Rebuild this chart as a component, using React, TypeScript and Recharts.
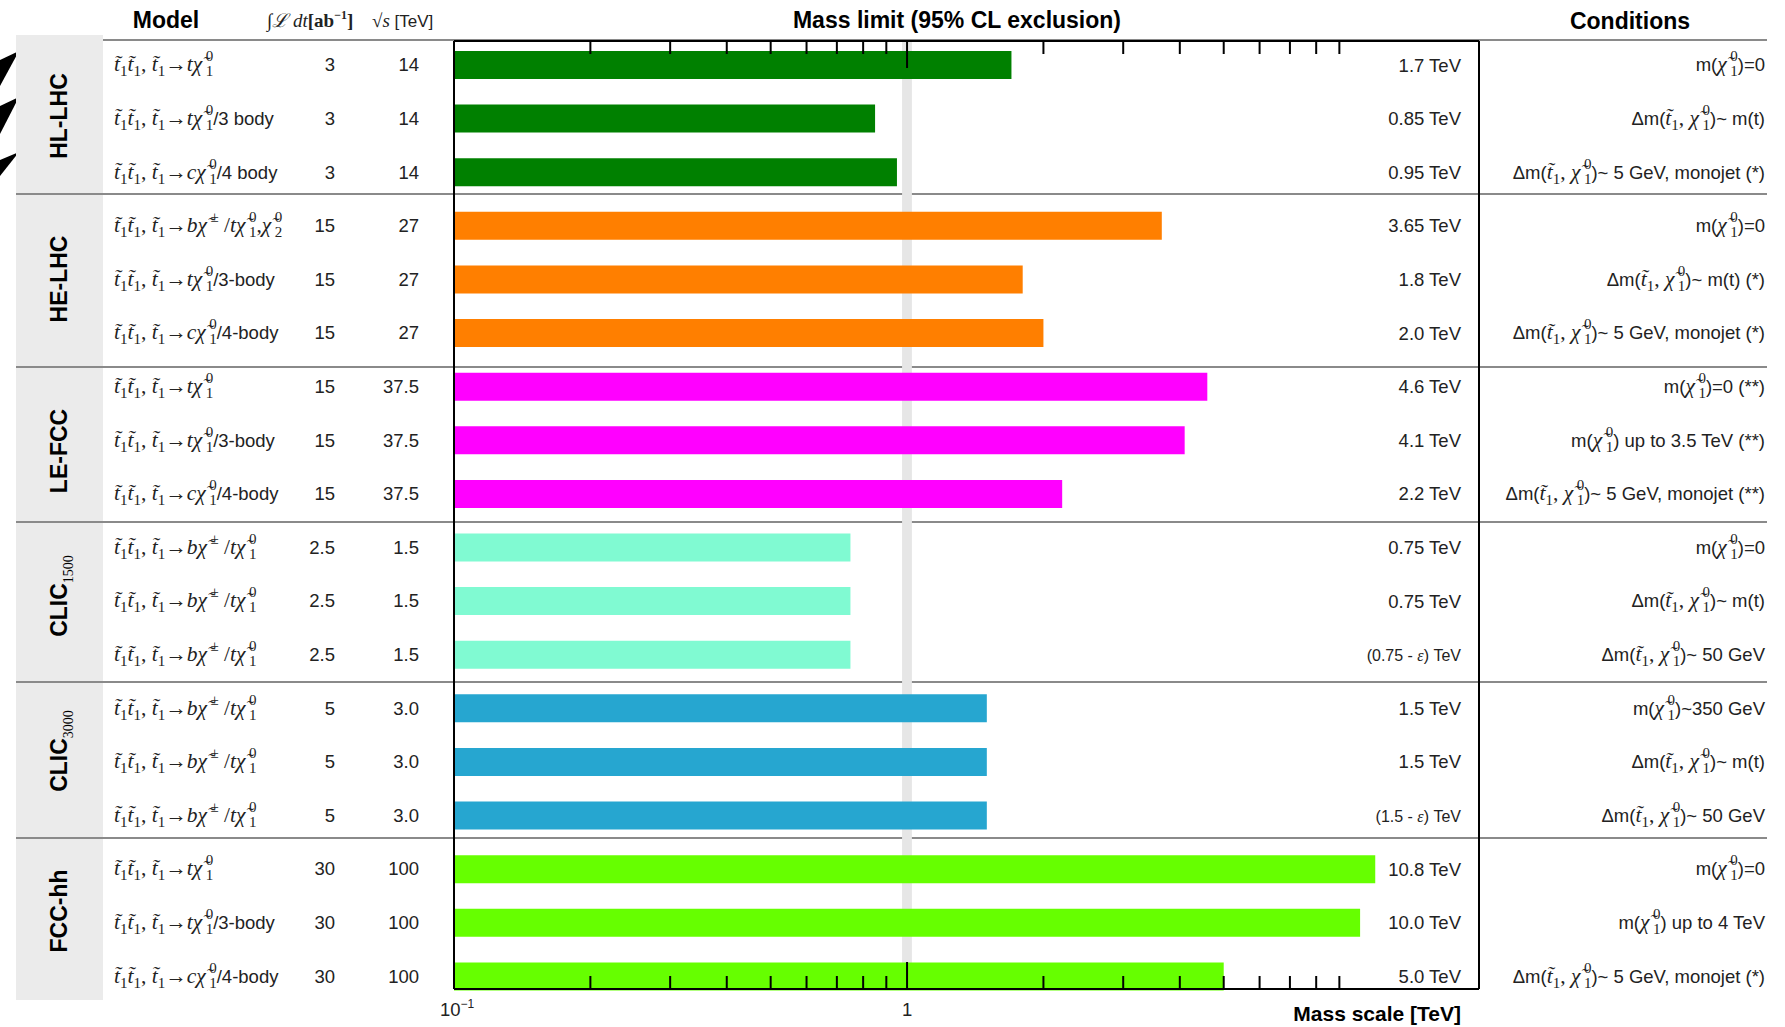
import React from 'react';
import { BarChart, Bar, XAxis, YAxis, Cell, LabelList, ReferenceArea } from 'recharts';

const SANS = "'Liberation Sans', Arial, Helvetica, sans-serif";
const SERIF = "'Liberation Serif', 'Times New Roman', serif";

// ---- data ----
const groupNames = ['HL-LHC', 'HE-LHC', 'LE-FCC', 'CLIC', 'CLIC', 'FCC-hh'];
const groupSubscripts = ['', '', '', '1500', '3000', ''];
const groupColors = ['#008000', '#ff7f00', '#ff00ff', '#80fad2', '#26a6d0', '#66ff00'];

const rowGroup = [0, 0, 0, 1, 1, 1, 2, 2, 2, 3, 3, 3, 4, 4, 4, 5, 5, 5];
const decays = ['t', 't', 'c', 'bt2', 't', 'c', 't', 't', 'c', 'bt', 'bt', 'bt', 'bt', 'bt', 'bt', 't', 't', 'c'];
const decaySuffix = ['', '/3 body', '/4 body', '', '/3-body', '/4-body', '', '/3-body', '/4-body',
  '', '', '', '', '', '', '', '/3-body', '/4-body'];
const lumi = ['3', '3', '3', '15', '15', '15', '15', '15', '15', '2.5', '2.5', '2.5', '5', '5', '5', '30', '30', '30'];
const sqrtS = ['14', '14', '14', '27', '27', '27', '37.5', '37.5', '37.5', '1.5', '1.5', '1.5', '3.0', '3.0', '3.0', '100', '100', '100'];
const massLimits = [1.7, 0.85, 0.95, 3.65, 1.8, 2.0, 4.6, 4.1, 2.2, 0.75, 0.75, 0.75, 1.5, 1.5, 1.5, 10.8, 10.0, 5.0];
const limitLabels = ['1.7 TeV', '0.85 TeV', '0.95 TeV', '3.65 TeV', '1.8 TeV', '2.0 TeV', '4.6 TeV', '4.1 TeV', '2.2 TeV',
  '0.75 TeV', '0.75 TeV', '(0.75 - ε) TeV', '1.5 TeV', '1.5 TeV', '(1.5 - ε) TeV', '10.8 TeV', '10.0 TeV', '5.0 TeV'];
const condKind = ['m', 'dm', 'dm', 'm', 'dm', 'dm', 'm', 'm', 'dm', 'm', 'dm', 'dm', 'm', 'dm', 'dm', 'm', 'm', 'dm'];
const condTail = [')=0', ')~ m(t)', ')~ 5 GeV, monojet (*)',
  ')=0', ')~ m(t) (*)', ')~ 5 GeV, monojet (*)',
  ')=0 (**)', ') up to 3.5 TeV (**)', ')~ 5 GeV, monojet (**)',
  ')=0', ')~ m(t)', ')~ 50 GeV',
  ')~350 GeV', ')~ m(t)', ')~ 50 GeV',
  ')=0', ') up to 4 TeV', ')~ 5 GeV, monojet (*)'];

const axisTicks = [0.1, 0.2, 0.3, 0.4, 0.5, 0.6, 0.7, 0.8, 0.9, 1, 2, 3, 4, 5, 6, 7, 8, 9];
const majorTicks = [0.1, 1];
const majorTickBase = ['10', '1'];
const majorTickExp = ['\u22121', ''];

const rows = massLimits.map((mass, i) => ({ id: `row${i}`, mass, label: limitLabels[i] }));

// ---- layout ----
const W = 1785;
const H = 1027;
const PLOT_LEFT = 454;
const PLOT_RIGHT = 1479;
const PLOT_TOP = 41;
const PLOT_BOTTOM = 989;
const VALUE_X = 1461;
const BODY = 18.5;
const MATH = 21.5;
const SUB = 15;
const separatorY = [194, 367, 522, 682, 838];
const groupLabelY = [116, 279, 451, 596, 751, 911];

type Seg = { t: string; it?: boolean; sz?: number; shift?: number; dx?: number; sans?: boolean; bold?: boolean };

// neutralino / chargino with stacked super- and subscript
const chi = (sup: string, sub?: string): Seg[] => {
  const out: Seg[] = [{ t: 'χ\u0303', it: true }, { t: sup, sz: SUB, shift: -10, dx: 3.5 }];
  if (sub) out.push({ t: sub, sz: SUB, shift: 5, dx: -SUB * (sup === '±' ? 0.564 : 0.5) });
  return out;
};
const stop = (): Seg[] => [{ t: 't\u0303', it: true }, { t: '1', sz: SUB, shift: 5 }];

function modelSegs(i: number): Seg[] {
  const d = decays[i];
  let tail: Seg[] = [];
  if (d === 't' || d === 'c') tail = [{ t: d, it: true }, ...chi('0', '1')];
  else {
    tail = [{ t: 'b', it: true }, ...chi('±'), { t: ' /' }, { t: 't', it: true }, ...chi('0', '1')];
    if (d === 'bt2') tail = [...tail, { t: ',' }, ...chi('0', '2')];
  }
  const out: Seg[] = [...stop(), ...stop(), { t: ', ' }, ...stop(), { t: '→' }, ...tail];
  if (decaySuffix[i]) out.push({ t: decaySuffix[i], sans: true, sz: BODY });
  return out;
}

function condSegs(i: number): Seg[] {
  const head: Seg[] = condKind[i] === 'm'
    ? [{ t: 'm(', sans: true, sz: BODY }, ...chi('0', '1')]
    : [{ t: 'Δm(', sans: true, sz: BODY }, ...stop(), { t: ', ' }, ...chi('0', '1')];
  return [...head, { t: condTail[i], sans: true, sz: BODY }];
}

function renderSegs(segs: Seg[]) {
  let prev = 0;
  return segs.map((s, k) => {
    const shift = s.shift ?? 0;
    const dy = shift - prev;
    prev = shift;
    return (
      <tspan
        key={k}
        dy={dy || undefined}
        dx={s.dx}
        fontSize={s.sz ?? MATH}
        fontStyle={s.it ? 'italic' : 'normal'}
        fontWeight={s.bold ? 'bold' : 'normal'}
        fontFamily={s.sans ? SANS : SERIF}
      >
        {s.t}
      </tspan>
    );
  });
}

const RowTick = (props: any) => {
  const { y, payload } = props;
  const i = rows.findIndex((r) => r.id === payload.value);
  if (i < 0) return <g />;
  const base = Number(y) + 6.5;
  return (
    <g fill="#222">
      <text x={114} y={base}>{renderSegs(modelSegs(i))}</text>
      <text x={335} y={base} textAnchor="end" fontFamily={SANS} fontSize={BODY}>{lumi[i]}</text>
      <text x={419} y={base} textAnchor="end" fontFamily={SANS} fontSize={BODY}>{sqrtS[i]}</text>
      <text x={1765} y={base} textAnchor="end">{renderSegs(condSegs(i))}</text>
    </g>
  );
};

const MassTick = (props: any) => {
  const { x, y, payload, side } = props;
  const v = payload.value;
  const mi = majorTicks.indexOf(v);
  const len = mi >= 0 ? 27 : 13;
  const dir = side === 'top' ? 1 : -1;
  return (
    <g>
      <line x1={x} x2={x} y1={y} y2={y + dir * len} stroke="#000" strokeWidth={2} />
      {side === 'bottom' && mi >= 0 && (
        <text x={mi === 0 ? x - 14 : x - 5} y={y + 27} fontFamily={SANS} fontSize={BODY} fill="#222">
          {majorTickBase[mi]}
          {majorTickExp[mi] && <tspan dy={-8} fontSize={12}>{majorTickExp[mi]}</tspan>}
        </text>
      )}
    </g>
  );
};

const ValueLabel = (props: any) => {
  const { y, height, value } = props;
  const text = String(value);
  const cy = Number(y) + Number(height) / 2 + 6.5;
  if (text.includes('ε')) {
    const [a, b] = text.split('ε');
    return (
      <text x={VALUE_X} y={cy} textAnchor="end" fontFamily={SANS} fontSize={16} fill="#222">
        {a}
        <tspan fontFamily={SERIF} fontStyle="italic">ε</tspan>
        {b}
      </text>
    );
  }
  return (
    <text x={VALUE_X} y={cy} textAnchor="end" fontFamily={SANS} fontSize={BODY} fill="#222">{text}</text>
  );
};

const frameLine = { stroke: '#000', strokeWidth: 2 };

export default function App() {
  return (
    <div style={{ position: 'absolute', left: 0, top: 0, width: W, height: H, background: '#fff', overflow: 'hidden' }}>
      <svg width={W} height={H} style={{ position: 'absolute', left: 0, top: 0 }}>
        {/* cut-off arrow heads at the left edge */}
        <polygon points="0,60 19,51 0,86" fill="#000" />
        <polygon points="0,106 19,97 0,134" fill="#000" />
        <polygon points="0,160 19,152 0,176" fill="#000" />
        <rect x={16} y={35} width={87} height={965} fill="#ebebeb" />
        <line x1={103} x2={1767} y1={40} y2={40} stroke="#8a8a8a" strokeWidth={2} />
        {separatorY.map((y) => (
          <line key={y} x1={16} x2={1767} y1={y} y2={y} stroke="#8a8a8a" strokeWidth={2} />
        ))}
        <text x={166} y={28} textAnchor="middle" fontFamily={SANS} fontWeight="bold" fontSize={23}>Model</text>
        <text x={267} y={27} fontFamily={SERIF} fontSize={19} fill="#222">
          <tspan fontStyle="italic">∫ℒ </tspan>
          <tspan fontStyle="italic">dt</tspan>
          <tspan fontWeight="bold">[ab</tspan>
          <tspan dy={-8} fontSize={12} fontWeight="bold">−1</tspan>
          <tspan dy={8} fontWeight="bold">]</tspan>
        </text>
        <text x={372} y={27} fontFamily={SERIF} fontSize={19} fill="#222">
          <tspan>√</tspan>
          <tspan fontStyle="italic">s</tspan>
          <tspan fontFamily={SANS} fontSize={17}> [TeV]</tspan>
        </text>
        <text x={957} y={28} textAnchor="middle" fontFamily={SANS} fontWeight="bold" fontSize={23}>
          Mass limit (95% CL exclusion)
        </text>
        <text x={1630} y={29} textAnchor="middle" fontFamily={SANS} fontWeight="bold" fontSize={23}>Conditions</text>
        {groupNames.map((g, k) => (
          <text
            key={k}
            transform={`translate(67, ${groupLabelY[k]}) rotate(-90)`}
            textAnchor="middle"
            fontFamily={SANS}
            fontWeight="bold"
            fontSize={23}
          >
            {g}
            {groupSubscripts[k] && (
              <tspan dy={6} fontFamily={SERIF} fontWeight="normal" fontSize={14}>{groupSubscripts[k]}</tspan>
            )}
          </text>
        ))}
        <text x={VALUE_X} y={1021} textAnchor="end" fontFamily={SANS} fontWeight="bold" fontSize={21}>
          Mass scale [TeV]
        </text>
      </svg>

      <div style={{ position: 'absolute', left: 0, top: 0 }}>
        <BarChart
          width={W}
          height={H}
          layout="vertical"
          data={rows}
          margin={{ top: PLOT_TOP - 1, right: 0, bottom: H - PLOT_BOTTOM - 1, left: 0 }}
        >
          <XAxis
            xAxisId="bottom"
            type="number"
            scale="log"
            domain={[0.1, 18.3]}
            allowDataOverflow
            ticks={axisTicks}
            interval={0}
            height={1}
            tickSize={0}
            tickMargin={0}
            tickLine={false}
            axisLine={frameLine}
            tick={(p: any) => <MassTick {...p} side="bottom" />}
          />
          <XAxis
            xAxisId="top"
            orientation="top"
            type="number"
            scale="log"
            domain={[0.1, 18.3]}
            allowDataOverflow
            ticks={axisTicks}
            interval={0}
            height={1}
            tickSize={0}
            tickMargin={0}
            tickLine={false}
            axisLine={frameLine}
            tick={(p: any) => <MassTick {...p} side="top" />}
          />
          <YAxis
            yAxisId="left"
            type="category"
            dataKey="id"
            width={PLOT_LEFT}
            interval={0}
            padding={{ top: -3, bottom: -14 }}
            tickLine={false}
            axisLine={frameLine}
            tick={(p: any) => <RowTick {...p} />}
          />
          <YAxis
            yAxisId="right"
            orientation="right"
            type="category"
            dataKey="id"
            width={W - PLOT_RIGHT}
            tick={false}
            tickLine={false}
            axisLine={frameLine}
          />
          <ReferenceArea
            xAxisId="bottom"
            yAxisId="left"
            x1={0.975}
            x2={1.025}
            fill="#e6e6e6"
            fillOpacity={1}
            stroke="none"
            ifOverflow="hidden"
          />
          <Bar dataKey="mass" xAxisId="bottom" yAxisId="left" barSize={28} isAnimationActive={false}>
            {rows.map((r, i) => (
              <Cell key={r.id} fill={groupColors[rowGroup[i]]} />
            ))}
            <LabelList dataKey="label" content={(p: any) => <ValueLabel {...p} />} />
          </Bar>
        </BarChart>
      </div>
    </div>
  );
}
